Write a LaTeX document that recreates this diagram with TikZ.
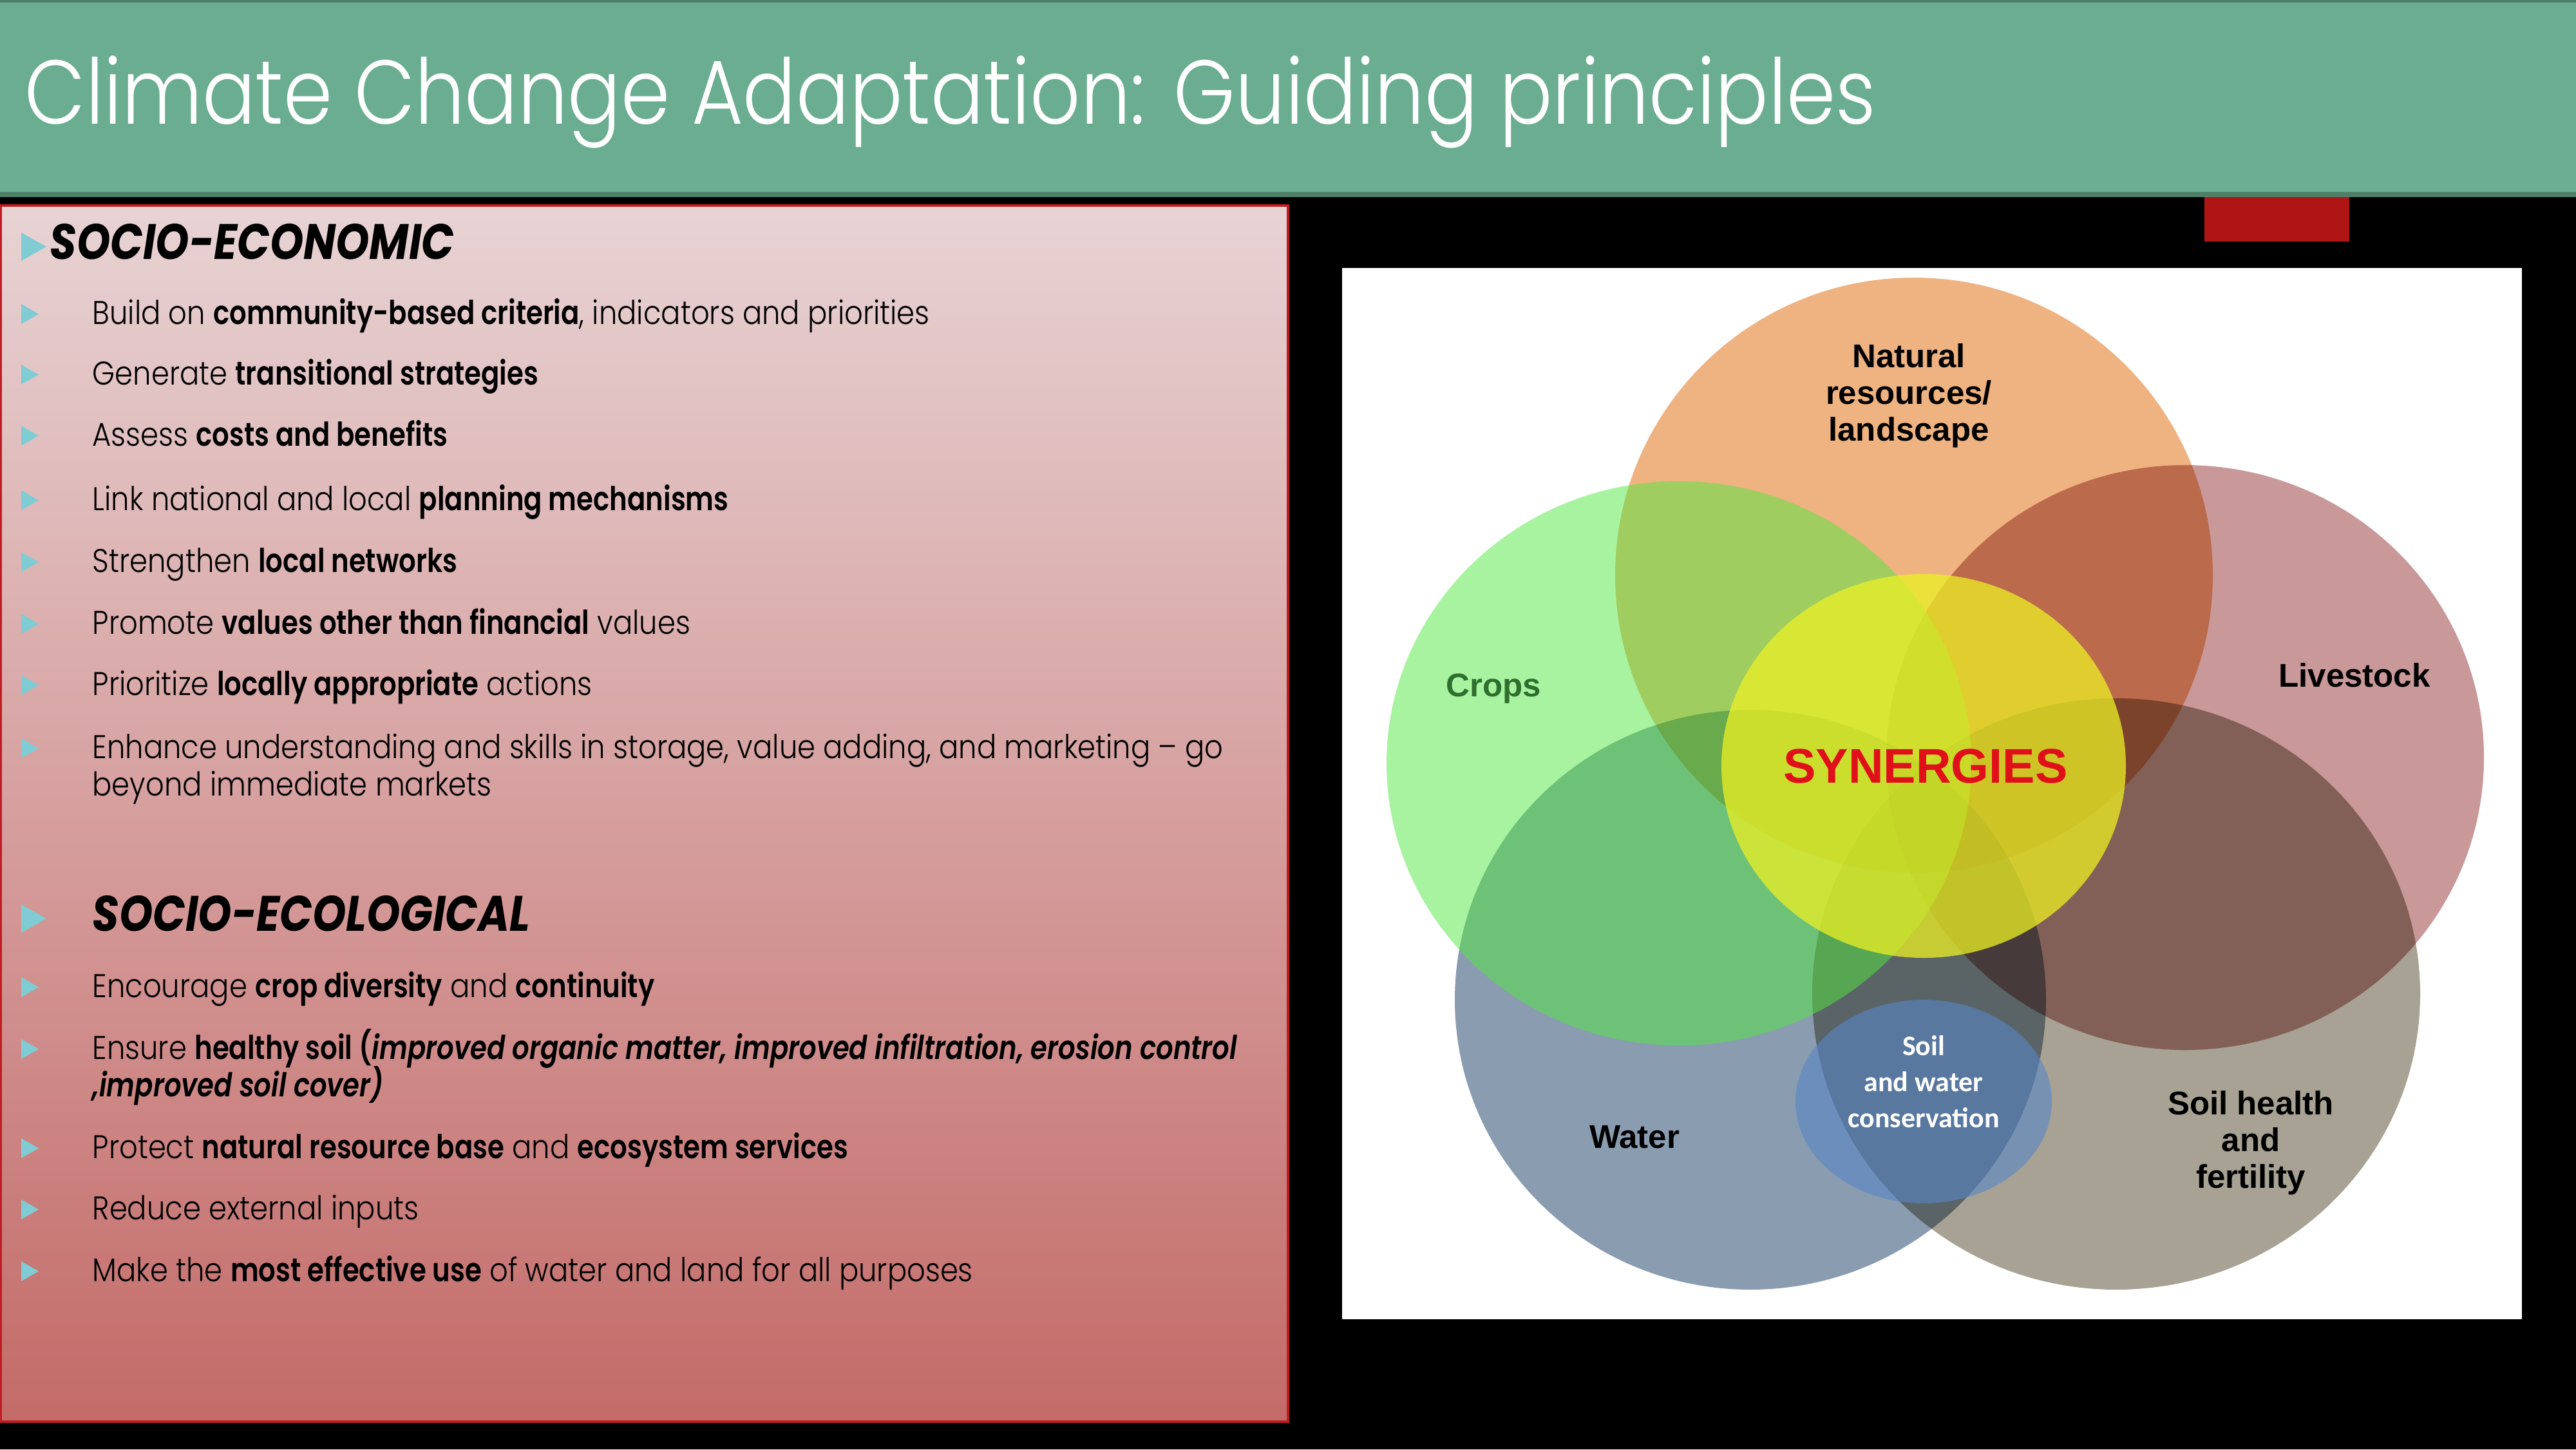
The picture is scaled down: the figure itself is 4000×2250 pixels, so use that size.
\documentclass[tikz,border=0pt]{standalone}
\usepackage{fontspec}
\setmainfont{Poppins}[UprightFont=* Light,UprightFeatures={FakeStretch=0.88},BoldFeatures={FakeStretch=0.82},BoldItalicFeatures={FakeStretch=0.82}]
\newfontfamily\titlefont{Poppins}[UprightFont=* Light,FakeStretch=0.87]
\newfontfamily\headfont{Poppins}[FakeStretch=0.86]
\newfontfamily\vennfont{Liberation Sans}
\newfontfamily\swcfont{Carlito}
\definecolor{titlegreen}{RGB}{106,173,145}
\definecolor{titleedge}{RGB}{78,128,104}
\definecolor{paneltop}{RGB}{232,211,212}
\definecolor{panelbot}{RGB}{195,107,104}
\definecolor{panelred}{RGB}{190,30,35}
\definecolor{tabred}{RGB}{176,21,21}
\definecolor{bulletcol}{RGB}{128,204,212}
\definecolor{natcol}{RGB}{239,178,129}
\definecolor{cropcol}{RGB}{83,233,65}
\definecolor{livecol}{RGB}{201,152,152}
\definecolor{watercol}{RGB}{138,156,176}
\definecolor{soilcol}{RGB}{167,162,147}
\definecolor{syncol}{RGB}{236,240,36}
\definecolor{swccol}{RGB}{88,134,199}
\definecolor{cropgreen}{RGB}{46,110,46}
\definecolor{synred}{RGB}{224,16,26}

\begin{document}
\begin{tikzpicture}[x=0.01cm,y=-0.01cm,
  line/.style={anchor=base west,inner sep=0pt,font=\fontsize{14.5}{17}\selectfont},
  head/.style={anchor=base west,inner sep=0pt,font=\headfont\fontsize{22}{25}\selectfont\bfseries\itshape},
  tri/.style={fill=bulletcol},
  mult/.style={blend mode=multiply},
  lbl/.style={align=center,font=\vennfont\bfseries\fontsize{14.5}{16.2}\selectfont}]
%-------->background<--------------
\useasboundingbox (0,0) rectangle (4000,2250);
\fill[black] (0,0) rectangle (4000,2250);
\fill[titlegreen] (0,0) rectangle (4000,306);
\fill[titleedge] (0,0) rectangle (4000,4);
\fill[titleedge] (0,298) rectangle (4000,306);
\fill[tabred] (3423,306) rectangle (3648,375);
%-------->title<--------------
\node[anchor=base west,inner sep=0pt,text=white,font=\titlefont\fontsize{40}{44}\selectfont] (title) at (38,192) {Climate Change Adaptation: Guiding principles};
%-------->left panel<--------------
\shade[top color=paneltop,bottom color=panelbot] (0,319) rectangle (2000,2207);
\draw[panelred,line width=1.2pt] (1,319) rectangle (2000,2207);
%-------->bullets<--------------
\foreach \y in {503,597,692,792,888,984,1079,1177,1548,1644,1798,1893,1989}
  \fill[tri] (33,\y) -- (33,\y-31) -- (60,\y-15.5) -- cycle;
\foreach \y in {402,1445}
  \fill[tri] (33,\y+3) -- (33,\y-41) -- (72,\y-19) -- cycle;
%-------->socio-economic<--------------
\node[head] (econ) at (77,402) {SOCIO-ECONOMIC};
\node[line] (e1) at (143,503) {Build on \textbf{community-based criteria}, indicators and priorities};
\node[line] (e2) at (143,597) {Generate \textbf{transitional strategies}};
\node[line] (e3) at (143,692) {Assess \textbf{costs and benefits}};
\node[line] (e4) at (143,792) {Link national and local \textbf{planning mechanisms}};
\node[line] (e5) at (143,888) {Strengthen \textbf{local networks}};
\node[line] (e6) at (143,984) {Promote \textbf{values other than financial} values};
\node[line] (e7) at (143,1079) {Prioritize \textbf{locally appropriate} actions};
\node[line] (e8) at (143,1177) {Enhance understanding and skills in storage, value adding, and marketing – go};
\node[line] (e8b) at (143,1235) {beyond immediate markets};
%-------->socio-ecological<--------------
\node[head] (ecol) at (143,1445) {SOCIO-ECOLOGICAL};
\node[line] (c1) at (143,1548) {Encourage \textbf{crop diversity} and \textbf{continuity}};
\node[line] (c2) at (143,1644) {Ensure \textbf{healthy soil (\textit{improved organic matter, improved infiltration, erosion control}}};
\node[line] (c2b) at (143,1702) {\textbf{\textit{,improved soil cover)}}};
\node[line] (c3) at (143,1798) {Protect \textbf{natural resource base} and \textbf{ecosystem services}};
\node[line] (c4) at (143,1893) {Reduce external inputs};
\node[line] (c5) at (143,1989) {Make the \textbf{most effective use} of water and land for all purposes};
%-------->venn diagram<--------------
\fill[white] (2084,416) rectangle (3916,2048);
\fill[natcol] (2972,893) ellipse [x radius=464,y radius=462];
\begin{scope}[mult]
\fill[livecol] (3393,1176) ellipse [x radius=464,y radius=454];
\fill[watercol] (2718,1552) ellipse [x radius=459,y radius=450];
\fill[soilcol] (3286,1543) ellipse [x radius=472,y radius=459];
\end{scope}
\fill[cropcol,fill opacity=0.5] (2607,1185) ellipse [x radius=454,y radius=438];
\fill[syncol,fill opacity=0.75] (2987,1189) ellipse [x radius=314,y radius=298];
\fill[swccol,fill opacity=0.6] (2987,1710) ellipse [x radius=199,y radius=158];
%-------->venn labels<--------------
\node[lbl] (nat) at (2964,614) {Natural\\resources/\\landscape};
\node[lbl,text=cropgreen] (crops) at (2319,1069) {Crops};
\node[lbl] (live) at (3656,1048) {Livestock};
\node[lbl,text=synred,font=\vennfont\bfseries\fontsize{21.5}{24}\selectfont] (syn) at (2990,1189) {SYNERGIES};
\node[lbl] (water) at (2538,1765) {Water};
\node[lbl] (soil) at (3495,1774) {Soil health\\and\\fertility};
\node[lbl,text=white,font=\swcfont\bfseries\fontsize{12.5}{16}\selectfont] (swc) at (2987,1679) {Soil\\and water\\conservation};
\end{tikzpicture}
\end{document}
